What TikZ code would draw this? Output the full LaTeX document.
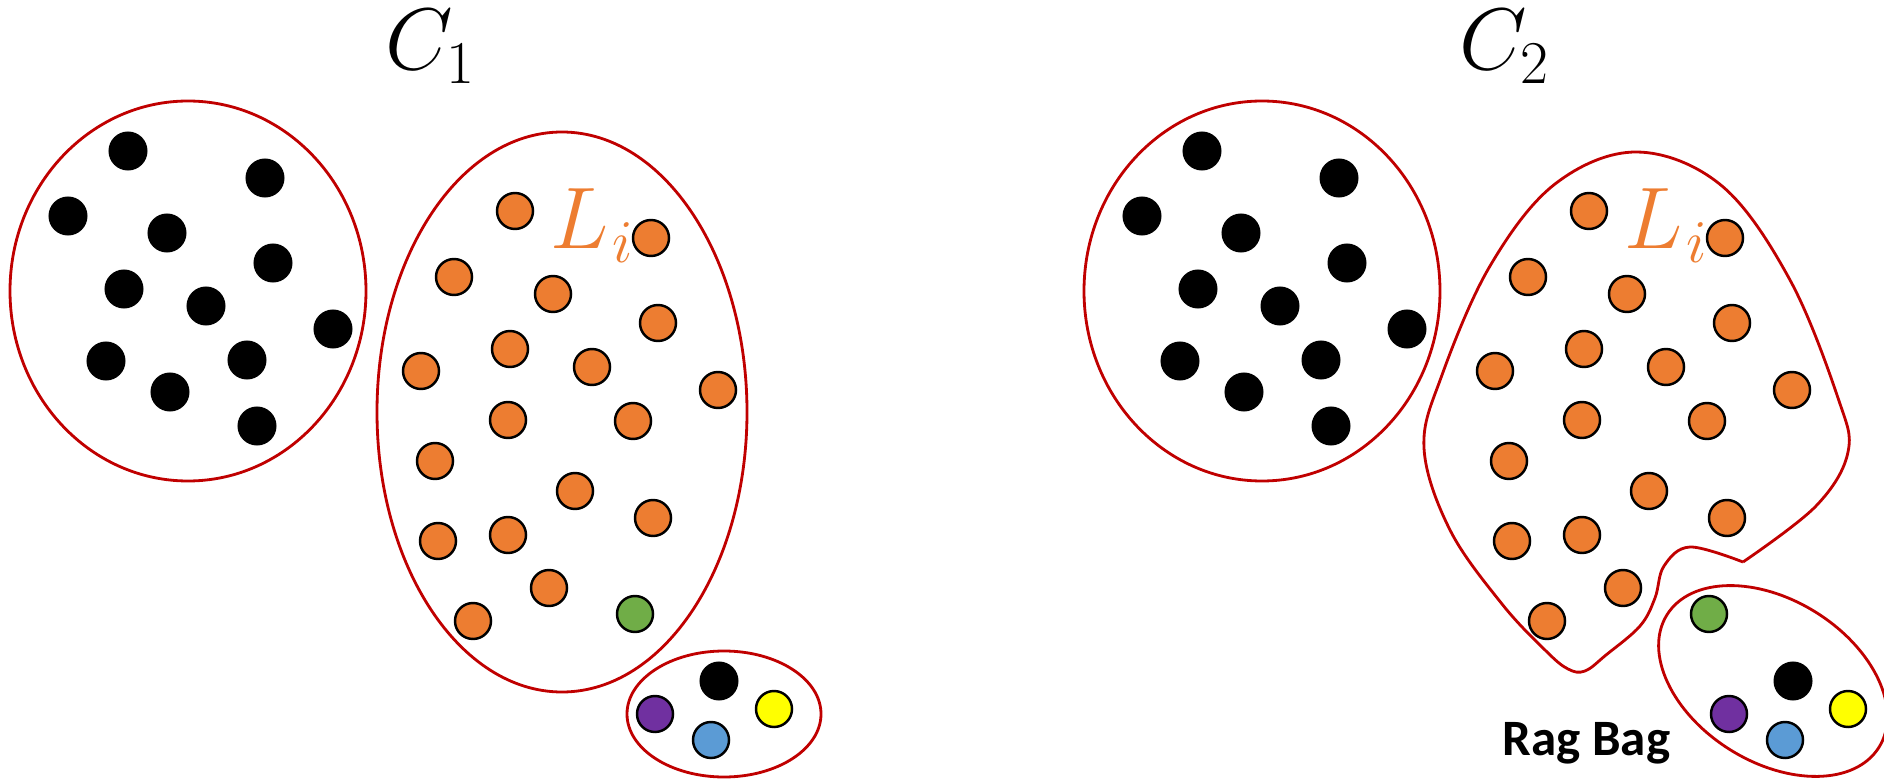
\documentclass[tikz,border=0pt]{standalone}
\usepackage{fontspec}
\newfontfamily\calib{Carlito}
\usepackage{tikz}
\usetikzlibrary{positioning}
\definecolor{setred}{RGB}{192,0,0}
\definecolor{ptorange}{RGB}{237,125,49}
\definecolor{ptgreen}{RGB}{112,173,71}
\definecolor{ptpurple}{RGB}{112,48,160}
\definecolor{ptblue}{RGB}{91,155,213}
\definecolor{ptyellow}{RGB}{255,255,0}

\begin{document}
\begin{tikzpicture}[x=0.01cm,y=-0.01cm,
    setline/.style={draw=setred,line width=0.8pt},
    pt/.style={circle,draw=black,line width=0.7pt,minimum size=0.36cm,inner sep=0pt},
    blk/.style={circle,fill=black,minimum size=0.39cm,inner sep=0pt},
    orng/.style={pt,fill=ptorange},
    lbl/.style={inner sep=0pt,anchor=base}]
  \useasboundingbox (0,0) rectangle (1884,779);

  \foreach \dx/\s in {0/A,1074/B}{
    \draw[setline] ({188+\dx},291) ellipse [x radius=178,y radius=190];
    \foreach \x/\y [count=\i] in {128/151,265/178,68/216,167/233,273/263,124/289,
        206/306,333/329,106/361,247/360,170/392,257/426}
      \node[blk] (k\s\i) at ({\x+\dx},\y) {};
    \foreach \x/\y [count=\i] in {515/211,651/238,454/277,553/294,658/323,510/349,
        592/367,421/371,718/390,508/420,633/421,435/461,575/491,653/518,438/541,
        508/535,549/588,473/621}
      \node[orng] (o\s\i) at ({\x+\dx},\y) {};
    \node[pt,fill=ptgreen] (g\s) at ({635+\dx},614) {};
    \node[blk] (r\s) at ({719+\dx},681) {};
    \node[pt,fill=ptpurple] (p\s) at ({655+\dx},714) {};
    \node[pt,fill=ptblue] (u\s) at ({711+\dx},740) {};
    \node[pt,fill=ptyellow] (y\s) at ({774+\dx},709) {};
    \node[lbl,anchor=base west,text=ptorange,font=\fontsize{24}{28}\selectfont]
      (L\s) at ({550+\dx},249) {$L_{\mkern1mu i}$};
  }

  \node[lbl,font=\fontsize{25}{30}\selectfont] (cA) at (431,70) {$C_1$};
  \node[lbl,font=\fontsize{25}{30}\selectfont] (cB) at (1505,70) {$C_2$};

  \draw[setline] (562,412) ellipse [x radius=185,y radius=280];
  \draw[setline] (724,714) ellipse [x radius=97,y radius=63];

  \draw[setline] plot[smooth,tension=0.6] coordinates {
    (1743,562) (1816,506) (1848,452) (1838,398) (1790,280) (1722,186)
    (1637,152) (1555,184) (1490,266) (1442,375) (1424,448) (1450,530)
    (1502,604) (1546,651) (1568,669) (1585,671) (1606,655) (1640,626)
    (1655,598) (1664,566) (1690,547) (1743,562)};
  \draw[setline,rotate around={-32:(1773,681)}] (1773,681)
    ellipse [x radius=125,y radius=81];

  \node[lbl,anchor=base west,font=\calib\bfseries\fontsize{14.5}{17}\selectfont]
    (rag) at (1502,755) {Rag Bag};
\end{tikzpicture}
\end{document}
